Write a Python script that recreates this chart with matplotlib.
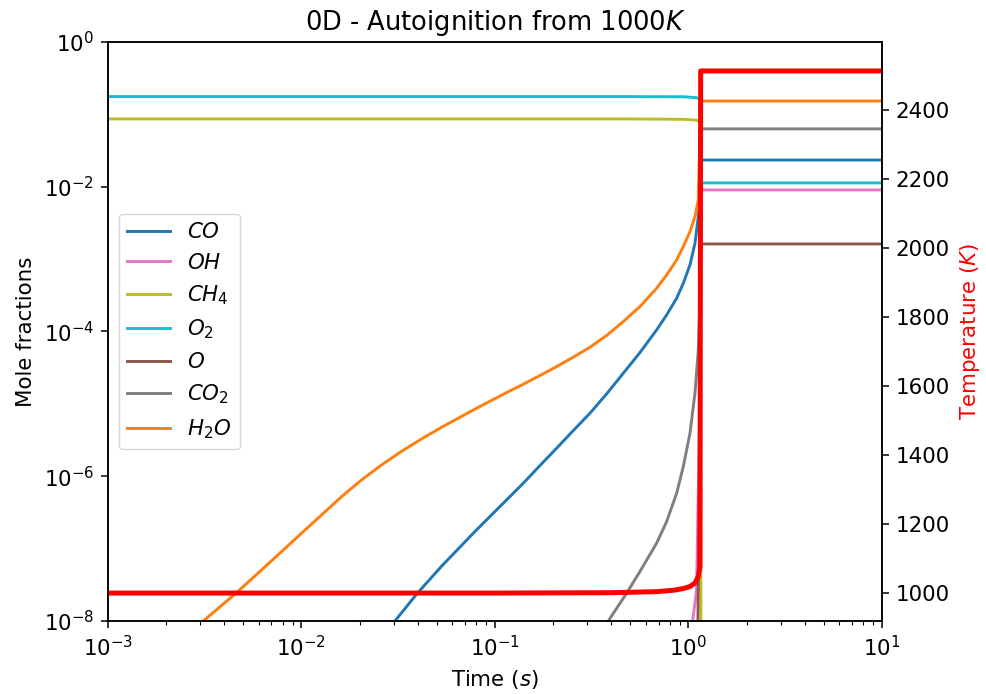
#! /usr/bin/env python

# Import libraries
import numpy as np
import matplotlib
matplotlib.use('Agg')
import matplotlib.pyplot as plt
from matplotlib.ticker import NullLocator, LogLocator

plt.rcParams.update({'font.size': 15.4})
plt.rcParams['font.family'] = ['DejaVu Sans']
plt.rcParams['mathtext.fontset'] = 'dejavusans'
plt.rcParams['xtick.major.pad'] = 4.9
plt.rcParams['ytick.major.pad'] = 4.9
plt.rcParams['axes.labelpad'] = 5.6

# Species mole fractions (time in s)
t_h2o = [0.003109, 0.004532, 0.006228, 0.007902, 0.01002, 0.01272, 0.01614, 0.02047,
         0.02597, 0.03294, 0.04180, 0.05302, 0.06211, 0.07878, 0.09423,
         0.1149, 0.1401, 0.1708, 0.2083, 0.2540, 0.3097, 0.3776, 0.4604, 0.5615, 0.6847,
         0.7715, 0.8687, 0.9404, 1.0181, 1.0804, 1.1240, 1.140, 1.153, 10.0]
x_h2o = [1.0e-8, 2.352e-8, 5.095e-8, 9.120e-8, 1.637e-7, 2.930e-7, 5.243e-7, 8.919e-7,
         1.437e-6, 2.214e-6, 3.285e-6, 4.751e-6, 5.993e-6, 8.447e-6, 1.088e-5,
         1.434e-5, 1.869e-5, 2.462e-5, 3.279e-5, 4.412e-5, 6.064e-5, 8.80e-5, 1.372e-4, 2.210e-4, 3.959e-4,
         6.050e-4, 9.750e-4, 1.490e-3, 2.400e-3, 3.867e-3, 6.572e-3, 0.0324, 0.153, 0.153]

t_co = [0.03042, 0.03937, 0.05302, 0.07878, 0.09423, 0.1149, 0.1401, 0.1708,
        0.2083, 0.2540, 0.3097, 0.3776, 0.4604, 0.5615, 0.6847, 0.7715, 0.8687, 0.9404,
        1.0181, 1.0804, 1.1240, 1.1467, 1.153, 1.161, 10.0]
x_co = [1.0e-8, 2.352e-8, 5.73e-8, 1.722e-7, 2.779e-7, 4.721e-7, 8.019e-7, 1.406e-6,
        2.441e-6, 4.281e-6, 7.430e-6, 1.374e-5, 2.652e-5, 5.117e-5, 1.052e-4, 1.696e-4, 2.881e-4, 4.642e-4,
        8.318e-4, 1.656e-3, 3.867e-3, 6.572e-3, 0.0171, 0.0234, 0.0234]

t_co2 = [0.3852, 0.4792, 0.5615, 0.6847, 0.7715, 0.8687, 0.9404, 1.0181, 1.0804, 1.1240,
         1.1467, 1.153, 1.161, 10.0]
x_co2 = [1.0e-8, 2.426e-8, 4.833e-8, 1.190e-7, 2.369e-7, 5.837e-7, 1.362e-6, 3.933e-6, 1.404e-5,
         5.569e-5, 2.732e-4, 6.57e-3, 0.063, 0.063]

t_o2 = [0.001, 0.5, 0.95, 1.10, 1.145, 1.158, 10.0]
x_o2 = [0.176, 0.176, 0.175, 0.170, 0.163, 0.0113, 0.0113]

t_ch4 = [0.001, 0.5, 0.95, 1.10, 1.150, 1.165]
x_ch4 = [0.0864, 0.0864, 0.0855, 0.0830, 0.0794, 1.0e-12]

t_oh = [1.051, 1.101, 1.145, 1.158, 10.0]
x_oh = [1.0e-8, 2.7e-8, 1.0e-5, 0.00904, 0.00904]

t_o = [1.119, 1.150, 1.160, 10.0]
x_o = [1.0e-8, 1.0e-5, 0.00162, 0.00162]

# Temperature (K)
t_temp = [0.001, 0.1, 0.4, 0.6847, 0.8347, 0.9404, 1.0181, 1.0804, 1.1240, 1.1467, 1.156, 10.0]
temp = [1000, 1000, 1001, 1004, 1008, 1013, 1019, 1029, 1048, 1077, 2513, 2513]

species = [
    (t_co, x_co, r'$CO$', '#1f77b4'),
    (t_oh, x_oh, r'$OH$', '#e377c2'),
    (t_ch4, x_ch4, r'$CH_4$', '#bcbd22'),
    (t_o2, x_o2, r'$O_2$', '#17becf'),
    (t_o, x_o, r'$O$', '#8c564b'),
    (t_co2, x_co2, r'$CO_2$', '#7f7f7f'),
    (t_h2o, x_h2o, r'$H_2O$', '#ff7f0e'),
]

fig = plt.figure(figsize=(9.86, 6.94), dpi=100)
ax = fig.add_axes([0.1095, 0.1052, 0.785, 0.8343])

for t, x, lab, col in species:
    ax.plot(t, x, color=col, label=lab, linewidth=2.1)

ax.set_xscale('log')
ax.set_yscale('log')
ax.set_xlim(1e-3, 1e1)
ax.set_ylim(1e-8, 1e0)
ax.set_yticks([1e-8, 1e-6, 1e-4, 1e-2, 1e0])
ax.yaxis.set_minor_locator(NullLocator())
ax.xaxis.set_major_locator(LogLocator(base=10, numticks=10))
ax.xaxis.set_minor_locator(LogLocator(base=10, subs=np.arange(2, 10), numticks=20))
ax.set_xlabel('Time ($s$)')
ax.set_ylabel('Mole fractions')
ax.set_title('0D - Autoignition from 1000$K$', fontsize=18.5, pad=8.4)
ax.tick_params(which='major', length=4.9, width=1.1)
ax.tick_params(which='minor', length=2.8, width=0.8)
for s in ax.spines.values():
    s.set_linewidth(1.1)

ax.legend(loc='center left', fontsize=15.4, handlelength=2.0)

# Temperature on the right axis
ax2 = ax.twinx()
ax2.plot(t_temp, temp, color='red', linewidth=3.6)
ax2.set_ylim(919, 2597)
ax2.set_yticks([1000, 1200, 1400, 1600, 1800, 2000, 2200, 2400])
ax2.set_ylabel('Temperature ($K$)', color='red')
ax2.tick_params(which='major', length=4.9, width=1.1)
for s in ax2.spines.values():
    s.set_linewidth(1.1)

plt.savefig('out.png', dpi=100)
